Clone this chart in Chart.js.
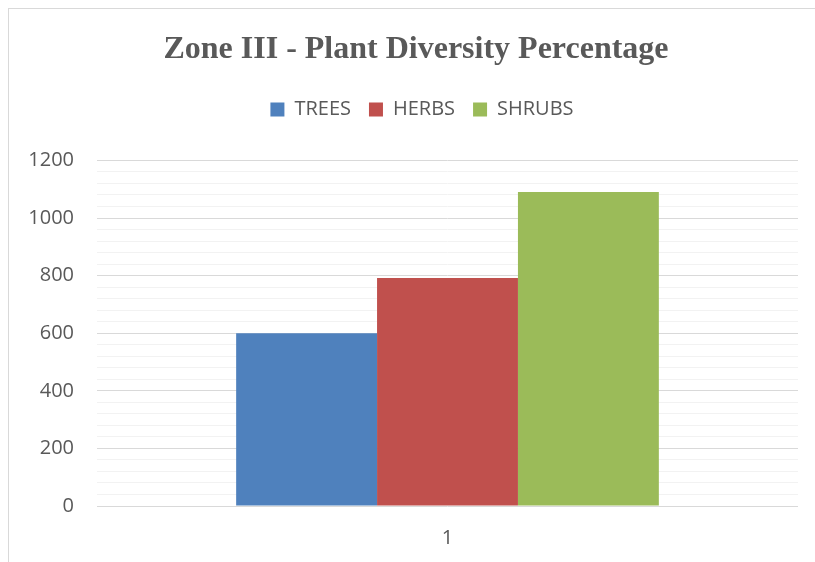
<!DOCTYPE html>
<html>
<head>
<meta charset="utf-8">
<script src="https://cdn.jsdelivr.net/npm/chart.js@4"></script>
<style>
    html, body { margin: 0; padding: 0; background: #fff; }
    #frame {
        position: absolute;
        left: 8px;
        top: 8px;
        border-left: 1px solid #d9d9d9;
        border-top: 1px solid #d9d9d9;
    }
    canvas { display: block; }
</style>
</head>
<body>
<div id="frame"><canvas id="chart" width="806" height="553"></canvas></div>
<script>
const categories = ['1'];
const trees = [600];
const herbs = [792];
const shrubs = [1090];
const seriesNames = ['TREES', 'HERBS', 'SHRUBS'];
const yTicks = [0, 200, 400, 600, 800, 1000, 1200];

document.addEventListener('DOMContentLoaded', () => {

    const textColor = '#595959';

    // taller legend box so the plot starts lower, and nudge title / legend to the right
    const boxTweaks = {
        id: 'boxTweaks',
        afterInit(chart) {
            const fitValue = chart.legend.fit;
            chart.legend.fit = function () {
                fitValue.bind(chart.legend)();
                this.height = 79;
            };
        },
        afterLayout(chart) {
            chart.titleBlock.left += 8;
            chart.titleBlock.right += 8;
            chart.legend.left += 14;
            chart.legend.right += 14;
        }
    };

    const ctx = document.getElementById('chart').getContext('2d');
    const chart = new Chart(ctx, {
        type: 'bar',
        data: {
            labels: categories,
            datasets: [
                { label: seriesNames[0], data: trees, backgroundColor: '#4F81BD' },
                { label: seriesNames[1], data: herbs, backgroundColor: '#C0504D' },
                { label: seriesNames[2], data: shrubs, backgroundColor: '#9BBB59' }
            ]
        },
        options: {
            responsive: false,
            animation: false,
            layout: { padding: { left: 9, right: 17, top: 0, bottom: 0 } },
            datasets: {
                bar: { barPercentage: 1, categoryPercentage: 0.603 }
            },
            plugins: {
                title: {
                    display: true,
                    text: 'Zone III - Plant Diversity Percentage',
                    color: textColor,
                    font: { family: '"Liberation Serif", "Times New Roman", serif', size: 32, weight: 'bold' },
                    padding: { top: 22, bottom: 12 }
                },
                legend: {
                    position: 'top',
                    labels: {
                        color: textColor,
                        font: { family: '"Open Sans", sans-serif', size: 20 },
                        boxWidth: 14,
                        boxHeight: 14,
                        padding: 18
                    }
                },
                tooltip: { enabled: false }
            },
            scales: {
                x: {
                    grid: { display: false },
                    border: { display: false },
                    ticks: {
                        color: textColor,
                        font: { family: '"Open Sans", sans-serif', size: 20 },
                        padding: 12
                    },
                    afterFit: scale => { scale.height = 56; }
                },
                y: {
                    min: 0,
                    max: 1200,
                    border: { display: false },
                    grid: {
                        drawTicks: false,
                        lineWidth: 1,
                        color: c => (yTicks.includes(c.tick.value) ? '#d9d9d9' : '#f2f2f2')
                    },
                    ticks: {
                        stepSize: 40,
                        autoSkip: false,
                        color: textColor,
                        font: { family: '"Open Sans", sans-serif', size: 20 },
                        padding: 23,
                        callback: value => (yTicks.includes(value) ? value : '')
                    },
                    afterFit: scale => { scale.width = 79; }
                }
            }
        },
        plugins: [boxTweaks]
    });
});
</script>
</body>
</html>
